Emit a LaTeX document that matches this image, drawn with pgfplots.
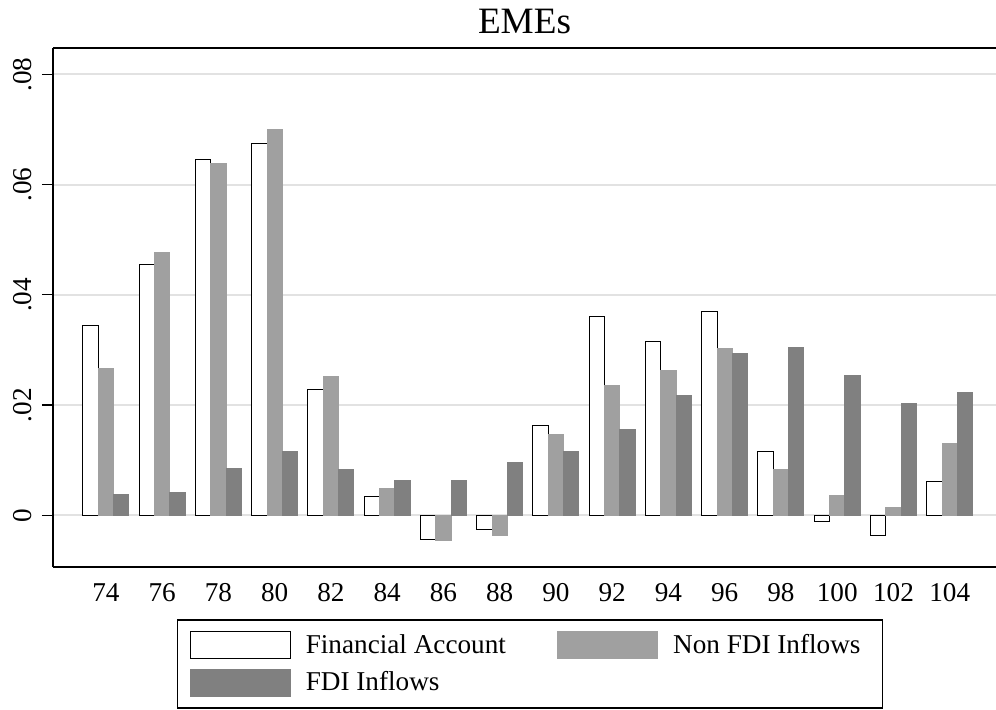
\documentclass[border=0pt]{standalone}
\usepackage{pgfplots}
\usepackage{pgfplotstable}
\pgfplotsset{compat=1.18}
\usepackage{fontspec}
\setmainfont{Liberation Serif}

\definecolor{barlight}{RGB}{160,160,160}
\definecolor{bardark}{RGB}{128,128,128}
\definecolor{gridgray}{RGB}{226,226,226}

% year index (0 = 74, 15 = 104)
\pgfplotstableread{
idx   fa       nonfdi   fdi
0     0.0344   0.0267   0.0037
1     0.0456   0.0477   0.0042
2     0.0646   0.0639   0.0085
3     0.0674   0.0701   0.0115
4     0.0229   0.0252   0.0084
5     0.0035   0.0048   0.0064
6     -0.0043  -0.0045  0.0064
7     -0.0025  -0.0037  0.0096
8     0.0163   0.0146   0.0115
9     0.0360   0.0235   0.0156
10    0.0315   0.0262   0.0217
11    0.0370   0.0302   0.0294
12    0.0116   0.0083   0.0304
13    -0.0011  0.0036   0.0253
14    -0.0036  0.0014   0.0203
15    0.0062   0.0131   0.0223
}\emes

\pgfplotsset{
  boxlegend/.style={legend image code/.code={
    \draw[##1] (0pt,-6.65pt) rectangle (50pt,6.65pt);}},
}

\begin{document}
\begin{tikzpicture}
\begin{axis}[
  name=ax,
  scale only axis,
  width=471.5pt, height=259.5pt,
  ybar=0pt, bar width=7.67pt,
  xmin=-0.942, xmax=15.823,
  ymin=-0.00938, ymax=0.0848,
  axis x line*=bottom, axis y line*=left,
  axis line style={line width=0.6pt},
  xtick={0,...,15},
  xticklabels={74,76,78,80,82,84,86,88,90,92,94,96,98,100,102,104},
  xtick style={draw=none},
  ytick={0,0.02,0.04,0.06,0.08},
  yticklabels={0,.02,.04,.06,.08},
  scaled y ticks=false,
  tick align=outside,
  ytick style={draw=black, line width=0.6pt},
  major tick length=5.5pt,
  /pgf/number format/assume math mode=true,
  tick label style={font=\fontsize{13.6}{16}\selectfont},
  xticklabel style={inner sep=0pt},
  xticklabel shift=2.5pt,
  yticklabel style={rotate=90, anchor=south, inner sep=0pt},
  yticklabel shift=5pt,
  ymajorgrids,
  grid style={gridgray, line width=1pt},
  title={EMEs},
  title style={font=\fontsize{18.6}{22}\selectfont, at={(axis description cs:0.5,1)}, anchor=base, yshift=1pt},
  legend columns=2,
  legend cell align=left,
  legend style={
    at={(axis description cs:0.1318,0)}, anchor=north west, yshift=-26.2pt,
    draw=black, line width=0.6pt,
    inner xsep=5.85pt, inner ysep=5.7pt,
    font=\fontsize{13.6}{16}\selectfont,
    nodes={inner sep=0pt},
    row sep=5pt,
    /tikz/every odd column/.style={column sep=7.6pt},
    /tikz/every even column/.style={column sep=25.5pt},
  },
]
\addplot[fill=white, draw=black, line width=0.5pt, boxlegend] table[x=idx, y=fa] {\emes};
\addplot[fill=barlight, draw=barlight, line width=0.5pt, boxlegend] table[x=idx, y=nonfdi] {\emes};
\addplot[fill=bardark, draw=bardark, line width=0.5pt, boxlegend] table[x=idx, y=fdi] {\emes};
\legend{Financial Account, Non FDI Inflows\hspace*{5pt}, FDI Inflows}
\draw[line width=0.6pt] (rel axis cs:0,1) -- (rel axis cs:1,1);
\end{axis}
\pgfresetboundingbox
\path ([xshift=-26.5pt,yshift=-71pt]ax.south west) rectangle ([yshift=24pt]ax.north east);
\end{tikzpicture}
\end{document}
